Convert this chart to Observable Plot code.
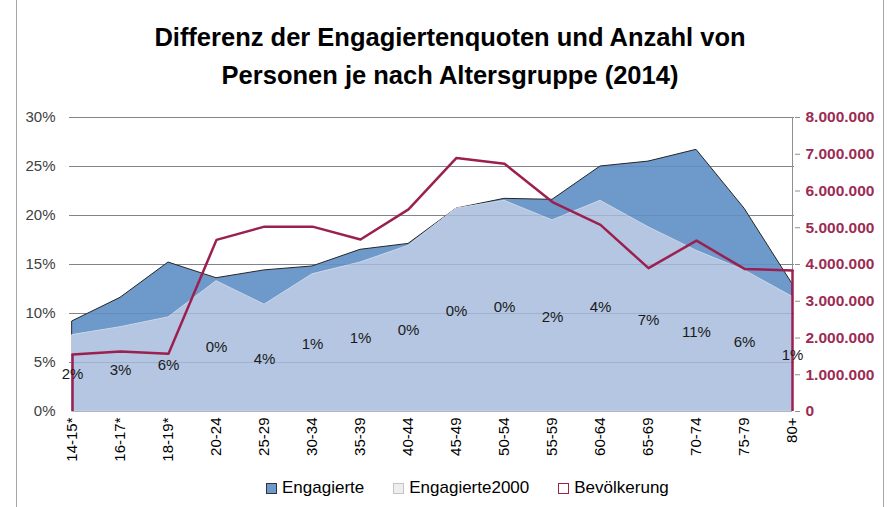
<!DOCTYPE html>
<html>
<head>
<meta charset="utf-8">
<script src="https://cdn.jsdelivr.net/npm/d3@7"></script>
<script src="https://cdn.jsdelivr.net/npm/@observablehq/plot@0.6"></script>
<style>
  html, body { margin: 0; padding: 0; background: #fff; }
  body { width: 887px; height: 507px; position: relative; overflow: hidden; font-family: "Liberation Sans", Arial, sans-serif; }
  #frame { position: absolute; left: 16px; top: -2px; width: 868px; height: 511px; border: 1px solid #a6a6a6; box-sizing: border-box; }
  #title { position: absolute; left: 0; top: 18px; width: 900px; text-align: center; font-weight: bold; font-size: 25.5px; line-height: 38px; color: #000; }
  #chart { position: absolute; left: 0; top: 100px; }
  #legend { position: absolute; left: 266px; top: 478px; display: flex; align-items: center; font-size: 17px; color: #000; white-space: nowrap; }
  .item { display: flex; align-items: center; margin-right: 29px; }
  .sw { width: 9px; height: 9px; margin-right: 5px; box-sizing: content-box; }
</style>
</head>
<body>
<div id="frame"></div>
<div id="title">Differenz der Engagiertenquoten und Anzahl von<br>Personen je nach Altersgruppe (2014)</div>
<div id="chart"></div>
<div id="legend">
  <div class="item"><span class="sw" style="background:#6E99CB;border:1px solid #333;"></span>Engagierte</div>
  <div class="item"><span class="sw" style="background:#eeeeee;border:1px solid #c4c4c4;"></span>Engagierte2000</div>
  <div class="item"><span class="sw" style="background:#fff;border:1.5px solid #9B2050;"></span>Bevölkerung</div>
</div>
<script>
const categories = ["14-15*","16-17*","18-19*","20-24","25-29","30-34","35-39","40-44","45-49","50-54","55-59","60-64","65-69","70-74","75-79","80+"];
const engagierte = [9.2, 11.6, 15.2, 13.6, 14.4, 14.8, 16.5, 17.1, 20.7, 21.7, 21.6, 25.0, 25.5, 26.7, 20.7, 13.0];
const engagierte2000 = [7.8, 8.6, 9.6, 13.3, 10.9, 14.0, 15.2, 16.9, 20.7, 21.5, 19.5, 21.5, 18.8, 16.4, 14.4, 11.7];
const bevoelkerung = [1550000, 1630000, 1570000, 4670000, 5030000, 5030000, 4680000, 5500000, 6900000, 6740000, 5700000, 5080000, 3900000, 4650000, 3880000, 3840000];
const diffLabels = ["2%","3%","6%","0%","4%","1%","1%","0%","0%","0%","2%","4%","7%","11%","6%","1%"];
const pctTicks = [0, 5, 10, 15, 20, 25, 30];
const popTicks = [0, 1000000, 2000000, 3000000, 4000000, 5000000, 6000000, 7000000, 8000000];
const popMax = 8000000, pctMax = 30;

const rows = categories.map((c, i) => ({cat: c, e: engagierte[i], e2000: engagierte2000[i], pop: bevoelkerung[i], label: diffLabels[i]}));
const toPct = v => v * pctMax / popMax;
const popFmt = v => { const n = Math.round(v * popMax / pctMax); return n === 0 ? "0" : d3.format(",")(n).replace(/,/g, "."); };
const edges = [rows[0], rows[rows.length - 1]];
const red = "#9B2050";

const chart = Plot.plot({
  width: 887,
  height: 375,
  marginTop: 17,
  marginBottom: 64,
  marginLeft: 69,
  marginRight: 93,
  style: {fontFamily: "Liberation Sans, Arial, sans-serif", fontSize: "15px", color: "#000", background: "transparent"},
  x: {type: "point", domain: categories, padding: 0, label: null},
  y: {domain: [0, pctMax], label: null},
  marks: [
    Plot.ruleY(pctTicks.filter(d => d > 0), {stroke: "#8f8f8f", strokeWidth: 1}),
    Plot.areaY(rows, {x: "cat", y: "e", fill: "#6E99CB", stroke: "#262626", strokeWidth: 1}),
    Plot.areaY(rows, {x: "cat", y: "e2000", fill: "#B4C6E1", stroke: "#cdd7e6", strokeWidth: 1}),
    Plot.ruleY(pctTicks.filter(d => d > 0), {stroke: "#3d5a80", strokeOpacity: 0.18, strokeWidth: 1}),
    Plot.ruleX([categories[categories.length - 1]], {y1: 0, y2: pctMax, stroke: "#8f8f8f", strokeWidth: 1}),
    Plot.lineY(rows, {x: "cat", y: d => toPct(d.pop), stroke: red, strokeWidth: 2.5}),
    Plot.ruleX(edges, {x: "cat", y1: 0, y2: d => toPct(d.pop), stroke: red, strokeWidth: 2.5}),
    Plot.text(rows, {x: "cat", y: d => d.e2000 / 2, text: "label", fill: "#1a1a1a", dy: 1}),
    Plot.axisY(pctTicks, {anchor: "left", tickSize: 0, tickPadding: 14, tickFormat: d => d + "%", fill: "#404040"}),
    Plot.axisY(popTicks.map(toPct), {anchor: "right", tickSize: 5, tickPadding: 6, tickFormat: () => "", stroke: "#8f8f8f"}),
    Plot.axisY(popTicks.map(toPct), {anchor: "right", tickSize: 0, tickPadding: 11, tickFormat: popFmt, color: "#9B2B55", fontWeight: "bold", fontSize: 15.5}),
    Plot.axisX({tickRotate: -90, tickSize: 0, tickPadding: 6, fill: "#000"})
  ]
});
document.getElementById("chart").appendChild(chart);
</script>
</body>
</html>
